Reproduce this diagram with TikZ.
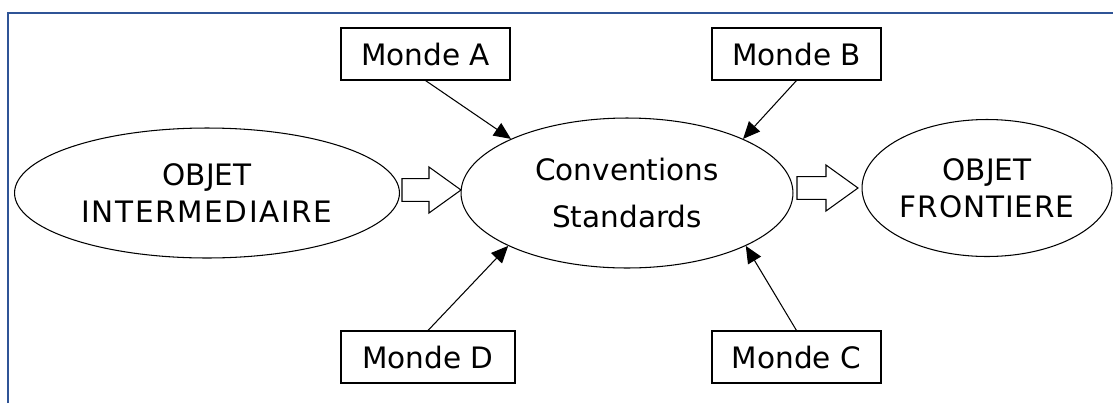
\documentclass[tikz,border=0pt]{standalone}
\usepackage{fontspec}
\setmainfont{DejaVu Sans}
\usetikzlibrary{calc,shapes.geometric,arrows.meta}
\definecolor{frameblue}{RGB}{47,84,150}
\def\hollowarrow(#1)(#2){\draw[line width=0.6pt, fill=white] ($(#1)+(0,-11.3)$) -- ($(#2)+(-32,-11.3)$) -- ($(#2)+(-32,-23)$) -- (#2) -- ($(#2)+(-32,23)$) -- ($(#2)+(-32,11.3)$) -- ($(#1)+(0,11.3)$) -- cycle;}
\def\wide#1#2{{\addfontfeature{LetterSpace=#1}#2}}
\tikzset{
	blob/.style={draw, ellipse, line width=0.6pt, align=center, inner sep=0pt, font=\fontsize{16.8}{20.6}\selectfont},
	monde/.style={draw, rectangle, line width=0.6pt, minimum width=3.38cm, minimum height=1.04cm, inner sep=0pt, font=\fontsize{16.8}{20}\selectfont},
	feed/.style={line width=0.6pt, -{Triangle[length=0.34cm, width=0.3cm]}}
}

\begin{document}
\begin{tikzpicture}[x=0.02cm, y=-0.02cm]
			%%%%% START %%%%%
			
			\useasboundingbox (0, 0) rectangle (1113, 403);
			\draw[frameblue, line width=1.1pt] (8, 403) -- (8, 13) -- (1113, 13);
			
			\node[blob, minimum width=7.7cm, minimum height=2.6cm] (oi) at (207, 193) {OBJET\\\wide{5.5}{INTERMEDIAIRE}};
			\node[blob, minimum width=6.64cm, minimum height=3cm, font=\fontsize{16.8}{26.6}\selectfont] (conv) at (627, 193) {Conventions\\Standards};
			\node[blob, minimum width=5cm, minimum height=2.74cm, font=\fontsize{16.8}{21}\selectfont] (of) at (987, 188) {OBJET\\\wide{3}{FRONTIERE}};
			
			\node[monde] (ma) at (425.5, 54) {Monde A};
			\node[monde] (mb) at (796.5, 54) {Monde B};
			\node[monde] (mc) at (796.5, 357) {Monde C};
			\node[monde, minimum width=3.48cm] (md) at (428, 357) {Monde D};
			
			\draw[feed] (ma.south) -- (conv.155);
			\draw[feed] (mb.south) -- (conv.25);
			\draw[feed] (mc.north) -- (conv.336);
			\draw[feed] (md.north) -- (conv.204);
			
			\coordinate (in0) at (402, 190);
			\coordinate (in1) at (461, 190);
			\coordinate (out0) at (797, 188);
			\coordinate (out1) at (858, 188);
			\hollowarrow(in0)(in1);
			\hollowarrow(out0)(out1);
			
			%%%%% END %%%%%
\end{tikzpicture}
\end{document}
